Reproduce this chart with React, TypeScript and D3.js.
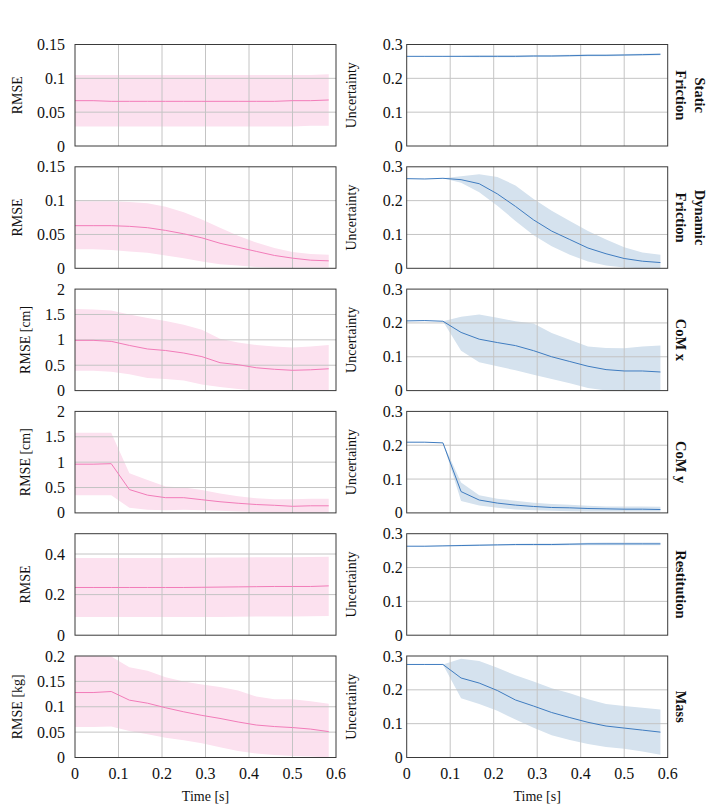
import React from "react";
import * as d3 from "d3";

// sample times [s]
const time = [0, 0.0417, 0.0833, 0.125, 0.1667, 0.2083, 0.25, 0.2917, 0.3333, 0.375, 0.4167, 0.4583, 0.5, 0.5417, 0.5833];

// Static friction
const staticRmse = [0.067, 0.067, 0.066, 0.066, 0.066, 0.066, 0.066, 0.066, 0.066, 0.066, 0.066, 0.066, 0.067, 0.067, 0.068];
const staticRmseLo = [0.029, 0.029, 0.029, 0.029, 0.029, 0.029, 0.029, 0.029, 0.029, 0.029, 0.029, 0.029, 0.029, 0.03, 0.03];
const staticRmseHi = [0.105, 0.105, 0.105, 0.105, 0.105, 0.105, 0.105, 0.105, 0.105, 0.105, 0.105, 0.105, 0.105, 0.105, 0.106];
const staticUnc = [0.265, 0.265, 0.265, 0.265, 0.265, 0.265, 0.265, 0.266, 0.266, 0.267, 0.268, 0.268, 0.269, 0.27, 0.271];
const staticUncLo = [0.265, 0.264, 0.264, 0.263, 0.262, 0.262, 0.262, 0.263, 0.263, 0.264, 0.265, 0.265, 0.266, 0.267, 0.268];
const staticUncHi = [0.265, 0.266, 0.266, 0.267, 0.268, 0.268, 0.268, 0.269, 0.269, 0.27, 0.271, 0.271, 0.272, 0.273, 0.274];

// Dynamic friction
const dynamicRmse = [0.063, 0.063, 0.063, 0.062, 0.06, 0.056, 0.051, 0.045, 0.037, 0.031, 0.025, 0.019, 0.015, 0.012, 0.011];
const dynamicRmseLo = [0.028, 0.028, 0.027, 0.025, 0.023, 0.019, 0.015, 0.01, 0.006, 0.004, 0.002, 0.001, 0.001, 0.001, 0.001];
const dynamicRmseHi = [0.099, 0.099, 0.099, 0.098, 0.096, 0.091, 0.083, 0.072, 0.06, 0.048, 0.038, 0.03, 0.024, 0.021, 0.02];
const dynamicUnc = [0.265, 0.264, 0.266, 0.262, 0.25, 0.22, 0.183, 0.143, 0.11, 0.085, 0.06, 0.043, 0.029, 0.021, 0.017];
const dynamicUncLo = [0.265, 0.264, 0.266, 0.253, 0.225, 0.185, 0.14, 0.098, 0.065, 0.04, 0.02, 0.008, 0.002, 0, 0];
const dynamicUncHi = [0.265, 0.264, 0.266, 0.272, 0.278, 0.27, 0.245, 0.205, 0.17, 0.14, 0.11, 0.085, 0.062, 0.047, 0.04];

// CoM x
const comXRmse = [0.99, 0.99, 0.97, 0.89, 0.82, 0.79, 0.74, 0.67, 0.55, 0.51, 0.45, 0.42, 0.4, 0.41, 0.43];
const comXRmseLo = [0.39, 0.39, 0.37, 0.32, 0.25, 0.23, 0.2, 0.12, 0.07, 0.03, 0, 0, 0, 0, 0];
const comXRmseHi = [1.61, 1.6, 1.58, 1.5, 1.43, 1.37, 1.3, 1.2, 1.02, 0.95, 0.9, 0.87, 0.85, 0.87, 0.9];
const comXUnc = [0.206, 0.207, 0.205, 0.172, 0.152, 0.142, 0.133, 0.118, 0.1, 0.086, 0.072, 0.062, 0.058, 0.058, 0.055];
const comXUncLo = [0.206, 0.207, 0.205, 0.118, 0.084, 0.072, 0.06, 0.047, 0.034, 0.022, 0.008, 0, 0, 0, 0];
const comXUncHi = [0.206, 0.207, 0.205, 0.218, 0.225, 0.215, 0.205, 0.198, 0.17, 0.15, 0.13, 0.126, 0.125, 0.13, 0.133];

// CoM y
const comYRmse = [0.96, 0.96, 0.97, 0.46, 0.35, 0.3, 0.3, 0.26, 0.22, 0.19, 0.165, 0.15, 0.13, 0.14, 0.14];
const comYRmseLo = [0.35, 0.35, 0.35, 0.1, 0.06, 0.05, 0.06, 0.05, 0.04, 0.03, 0.02, 0.01, 0.01, 0.01, 0.01];
const comYRmseHi = [1.58, 1.58, 1.58, 0.78, 0.65, 0.52, 0.5, 0.45, 0.38, 0.33, 0.29, 0.27, 0.27, 0.28, 0.28];
const comYUnc = [0.209, 0.209, 0.207, 0.063, 0.038, 0.029, 0.023, 0.019, 0.016, 0.015, 0.013, 0.012, 0.011, 0.011, 0.01];
const comYUncLo = [0.209, 0.209, 0.207, 0.035, 0.022, 0.015, 0.01, 0.008, 0.006, 0.005, 0.004, 0.004, 0.004, 0.004, 0.004];
const comYUncHi = [0.209, 0.209, 0.207, 0.09, 0.052, 0.042, 0.036, 0.03, 0.026, 0.024, 0.021, 0.019, 0.019, 0.019, 0.018];

// Restitution
const restRmse = [0.235, 0.235, 0.235, 0.235, 0.235, 0.235, 0.235, 0.236, 0.237, 0.238, 0.239, 0.24, 0.24, 0.24, 0.243];
const restRmseLo = [0.09, 0.09, 0.09, 0.09, 0.09, 0.09, 0.09, 0.09, 0.09, 0.091, 0.092, 0.092, 0.092, 0.093, 0.095];
const restRmseHi = [0.38, 0.38, 0.38, 0.38, 0.38, 0.38, 0.381, 0.382, 0.383, 0.383, 0.384, 0.384, 0.384, 0.385, 0.386];
const restUnc = [0.263, 0.263, 0.264, 0.265, 0.266, 0.267, 0.268, 0.268, 0.268, 0.269, 0.27, 0.27, 0.27, 0.27, 0.27];
const restUncLo = [0.263, 0.262, 0.263, 0.263, 0.264, 0.265, 0.265, 0.265, 0.265, 0.266, 0.266, 0.266, 0.266, 0.266, 0.266];
const restUncHi = [0.263, 0.264, 0.265, 0.267, 0.268, 0.269, 0.27, 0.271, 0.271, 0.272, 0.273, 0.274, 0.274, 0.274, 0.274];

// Mass
const massRmse = [0.128, 0.128, 0.13, 0.113, 0.107, 0.098, 0.09, 0.083, 0.077, 0.07, 0.064, 0.061, 0.059, 0.056, 0.051];
const massRmseLo = [0.06, 0.06, 0.061, 0.052, 0.046, 0.039, 0.034, 0.028, 0.02, 0.013, 0.008, 0.005, 0.003, 0.002, 0];
const massRmseHi = [0.2, 0.2, 0.199, 0.178, 0.171, 0.158, 0.15, 0.144, 0.139, 0.132, 0.12, 0.115, 0.115, 0.111, 0.106];
const massUnc = [0.275, 0.275, 0.275, 0.235, 0.22, 0.198, 0.17, 0.152, 0.133, 0.118, 0.104, 0.093, 0.087, 0.081, 0.075];
const massUncLo = [0.275, 0.275, 0.275, 0.175, 0.158, 0.138, 0.112, 0.088, 0.066, 0.052, 0.04, 0.031, 0.026, 0.018, 0.008];
const massUncHi = [0.275, 0.275, 0.275, 0.292, 0.285, 0.265, 0.243, 0.225, 0.205, 0.19, 0.172, 0.158, 0.152, 0.147, 0.142];

// axis ticks
const timeTicks = [0, 0.1, 0.2, 0.3, 0.4, 0.5, 0.6];
const uncTicks = [0, 0.1, 0.2, 0.3];
const frictionTicks = [0, 0.05, 0.1, 0.15];
const comTicks = [0, 0.5, 1, 1.5, 2];
const restTicks = [0, 0.2, 0.4];
const massTicks = [0, 0.05, 0.1, 0.15, 0.2];

const rows = [
  { name: ["Static", "Friction"], rmseLabel: "RMSE", rmseMax: 0.15, rmseTicks: frictionTicks,
    rmse: [staticRmse, staticRmseLo, staticRmseHi], unc: [staticUnc, staticUncLo, staticUncHi] },
  { name: ["Dynamic", "Friction"], rmseLabel: "RMSE", rmseMax: 0.15, rmseTicks: frictionTicks,
    rmse: [dynamicRmse, dynamicRmseLo, dynamicRmseHi], unc: [dynamicUnc, dynamicUncLo, dynamicUncHi] },
  { name: ["CoM x"], rmseLabel: "RMSE [cm]", rmseMax: 2, rmseTicks: comTicks,
    rmse: [comXRmse, comXRmseLo, comXRmseHi], unc: [comXUnc, comXUncLo, comXUncHi] },
  { name: ["CoM y"], rmseLabel: "RMSE [cm]", rmseMax: 2, rmseTicks: comTicks,
    rmse: [comYRmse, comYRmseLo, comYRmseHi], unc: [comYUnc, comYUncLo, comYUncHi] },
  { name: ["Restitution"], rmseLabel: "RMSE", rmseMax: 0.5, rmseTicks: restTicks,
    rmse: [restRmse, restRmseLo, restRmseHi], unc: [restUnc, restUncLo, restUncHi] },
  { name: ["Mass"], rmseLabel: "RMSE [kg]", rmseMax: 0.2, rmseTicks: massTicks,
    rmse: [massRmse, massRmseLo, massRmseHi], unc: [massUnc, massUncLo, massUncHi] },
];

const W = 714;
const H = 812;
const LEFT_X = 75;
const RIGHT_X = 406.7;
const PW = 261;
const PH = 101.5;
const TOP = 44.5;
const PITCH = 122.3;
const FONT = "'Liberation Serif', 'Times New Roman', serif";
const TICK_FS = 16;
const LABEL_FS = 14;

const PINK = { line: "#f27cb9", fill: "#fce1ef" };
const BLUE = { line: "#3f7cc0", fill: "#d5e2ee" };

const tickWidth = (s: string) =>
  s.split("").reduce((w, c) => w + (c === "." ? 0.25 : 0.5) * TICK_FS, 0);

interface PanelProps {
  x0: number;
  y0: number;
  yMax: number;
  yTicks: number[];
  series: number[][];
  color: { line: string; fill: string };
  yLabel: string;
  yLabelX: number;
  tickGap: number;
  bottom: boolean;
}

const Panel = ({ x0, y0, yMax, yTicks, series, color, yLabel, yLabelX, tickGap, bottom }: PanelProps) => {
  const x = d3.scaleLinear().domain([0, 0.6]).range([x0, x0 + PW]);
  const y = d3.scaleLinear().domain([0, yMax]).range([y0 + PH, y0]);
  const [mean, lo, hi] = series;

  const band = d3
    .area<number>()
    .x((t) => x(t))
    .y0((_, i) => y(lo[i]))
    .y1((_, i) => y(hi[i]));
  const line = d3
    .line<number>()
    .x((t) => x(t))
    .y((_, i) => y(mean[i]));

  return (
    <g>
      <path d={band(time) ?? ""} fill={color.fill} />
      {timeTicks.slice(1, -1).map((t) => (
        <line key={"gx" + t} x1={x(t)} x2={x(t)} y1={y0} y2={y0 + PH} stroke="#c4c4c4" strokeWidth={1} />
      ))}
      {yTicks.filter((v) => v > 0 && v < yMax).map((v) => (
        <line key={"gy" + v} x1={x0} x2={x0 + PW} y1={y(v)} y2={y(v)} stroke="#c4c4c4" strokeWidth={1} />
      ))}
      <path d={line(time) ?? ""} fill="none" stroke={color.line} strokeWidth={1} />
      <rect x={x0} y={y0} width={PW} height={PH} fill="none" stroke="#3a3a3a" strokeWidth={1} />
      {yTicks.map((v) => (
        <text key={"ty" + v} x={x0 - tickGap} y={y(v)} textAnchor="end" dominantBaseline="central"
          fontFamily={FONT} fontSize={TICK_FS} fill="#111">
          {String(v)}
        </text>
      ))}
      <text transform={`translate(${yLabelX},${y0 + PH / 2}) rotate(-90)`} textAnchor="middle"
        fontFamily={FONT} fontSize={LABEL_FS} fill="#111">
        {yLabel}
      </text>
      {bottom && (
        <g>
          {timeTicks.map((t) => (
            <text key={"tx" + t} x={x(t)} y={779} textAnchor="middle" fontFamily={FONT} fontSize={TICK_FS} fill="#111">
              {String(t)}
            </text>
          ))}
          <text x={x0 + PW / 2} y={801} textAnchor="middle" fontFamily={FONT} fontSize={LABEL_FS} fill="#111">
            Time [s]
          </text>
        </g>
      )}
    </g>
  );
};

export default function App() {
  return (
    <svg width={W} height={H} style={{ position: "absolute", left: 0, top: 0, background: "#fff" }}>
      {rows.map((r, k) => {
        const y0 = TOP + k * PITCH;
        const tw = d3.max(r.rmseTicks, (v) => tickWidth(String(v))) ?? 0;
        return (
          <g key={k}>
            <Panel x0={LEFT_X} y0={y0} yMax={r.rmseMax} yTicks={r.rmseTicks} series={r.rmse} color={PINK}
              yLabel={r.rmseLabel} yLabelX={LEFT_X - 10 - tw - 15} tickGap={10} bottom={k === rows.length - 1} />
            <Panel x0={RIGHT_X} y0={y0} yMax={0.3} yTicks={uncTicks} series={r.unc} color={BLUE}
              yLabel="Uncertainty" yLabelX={356} tickGap={4} bottom={k === rows.length - 1} />
            <text transform={`translate(676,${y0 + PH / 2}) rotate(90)`} textAnchor="middle"
              fontFamily={FONT} fontSize={14.5} fontWeight="bold" fill="#111">
              {r.name.map((s, j) => (
                <tspan key={j} x={0} y={(j - r.name.length + 1) * 19}>
                  {s}
                </tspan>
              ))}
            </text>
          </g>
        );
      })}
    </svg>
  );
}
